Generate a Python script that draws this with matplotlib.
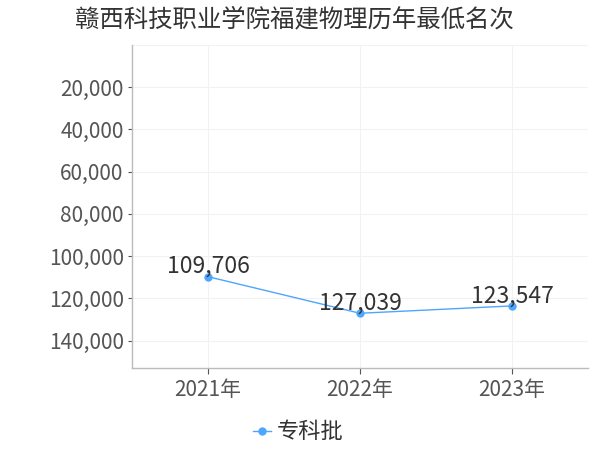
import matplotlib
matplotlib.use("Agg")
import matplotlib.pyplot as plt
from matplotlib.ticker import FuncFormatter

plt.rcParams['font.family'] = ['Noto Sans CJK SC', 'DejaVu Sans']

years = ["2021年", "2022年", "2023年"]
values = [109706, 127039, 123547]
series_name = "专科批"
title = "赣西科技职业学院福建物理历年最低名次"
yticks = [20000, 40000, 60000, 80000, 100000, 120000, 140000]

color = '#4da6ff'

fig = plt.figure(figsize=(6, 4.5), dpi=100)
ax = fig.add_axes([0.22, 0.182, 0.76, 0.718])

x = list(range(len(years)))
line, = ax.plot(x, values, color=color, linewidth=1, marker='o', markersize=5,
                label=series_name, zorder=3)
for xi, v in zip(x, values):
    ax.annotate(f"{v:,}", (xi, v), xytext=(0, -1), textcoords='offset points',
                ha='center', va='bottom', fontsize=16.5, color='#333333', zorder=4)

ax.set_xlim(-0.5, 2.5)
ax.set_ylim(153000, 0)
ax.set_yticks(yticks)
ax.yaxis.set_major_formatter(FuncFormatter(lambda v, p: f"{int(v):,}"))
ax.set_xticks(x)
ax.set_xticklabels(years)
ax.tick_params(axis='both', labelsize=15, colors='#555555', width=0.8)
ax.tick_params(axis='y', length=3, pad=3)
ax.tick_params(axis='x', length=4, pad=4)

ax.grid(True, color='#f2f2f2', linewidth=0.8)
ax.set_axisbelow(True)
for s in ['top', 'right']:
    ax.spines[s].set_visible(False)
for s in ['left', 'bottom']:
    ax.spines[s].set_color('#bbbbbb')
    ax.spines[s].set_linewidth(1)
ax.axvline(2.5, color='#f2f2f2', linewidth=0.8, zorder=0)
ax.axhline(0, color='#f2f2f2', linewidth=0.8, zorder=0)

fig.text(0.49, 0.958, title, ha='center', va='center', fontsize=17.6, color='#333333')

fig.legend(handles=[line], loc='center', bbox_to_anchor=(0.497, 0.04), frameon=False,
           fontsize=16, labelcolor='#333333', handlelength=0.8, handletextpad=0.25)

fig.savefig("out.png", dpi=100)
